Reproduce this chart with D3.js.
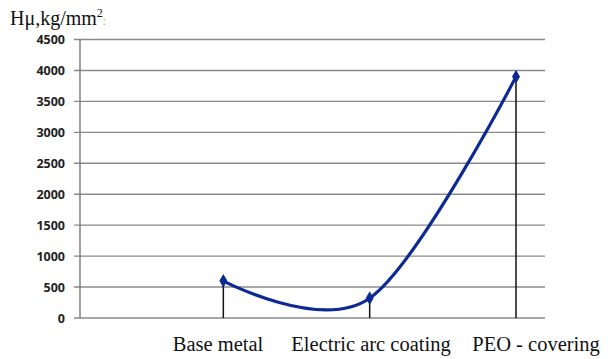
<!DOCTYPE html>
<html>
<head>
<meta charset="utf-8">
<script src="https://cdn.jsdelivr.net/npm/d3@7"></script>
<style>
  body { margin: 0; background: #fff; }
</style>
</head>
<body>
<div id="main"></div>
<script>
var categories = ["", "Base metal", "Electric arc coating", "PEO - covering"];
var values = [null, 600, 320, 3900];
var yTicks = [0, 500, 1000, 1500, 2000, 2500, 3000, 3500, 4000, 4500];

var svg = d3.select("#main").append("svg")
    .attr("width", 608)
    .attr("height", 359);

var x = d3.scalePoint().domain(categories).range([77, 516]);
var y = d3.scaleLinear().domain([0, 4500]).range([318, 39.5]);

// gridlines
svg.append("g").selectAll("line")
    .data(yTicks)
    .enter().append("line")
    .attr("x1", 74).attr("x2", 545)
    .attr("y1", function(d) { return y(d); })
    .attr("y2", function(d) { return y(d); })
    .attr("stroke", "#8a8a8a")
    .attr("stroke-width", 1.4);

// y axis line
svg.append("line")
    .attr("x1", 80).attr("x2", 80)
    .attr("y1", y(4500)).attr("y2", y(0))
    .attr("stroke", "#777")
    .attr("stroke-width", 1.4);

// tick labels
svg.append("g").selectAll("text")
    .data(yTicks)
    .enter().append("text")
    .attr("x", 65)
    .attr("y", function(d) { return y(d) + 4.5; })
    .attr("text-anchor", "end")
    .attr("font-family", "'Open Sans', 'DejaVu Sans', sans-serif")
    .attr("font-weight", "bold")
    .attr("font-size", 12.5)
    .attr("fill", "#222")
    .text(function(d) { return d; });

var pts = categories.map(function(c, i) { return { c: c, v: values[i] }; })
    .filter(function(d) { return d.v !== null; });

// drop lines
svg.append("g").selectAll("line")
    .data(pts)
    .enter().append("line")
    .attr("x1", function(d) { return x(d.c); })
    .attr("x2", function(d) { return x(d.c); })
    .attr("y1", function(d) { return y(d.v); })
    .attr("y2", y(0))
    .attr("stroke", "#111")
    .attr("stroke-width", 1.5);

// smoothed line
var line = d3.line()
    .x(function(d) { return x(d.c); })
    .y(function(d) { return y(d.v); })
    .curve(d3.curveCardinal.tension(0));

svg.append("path")
    .datum(pts)
    .attr("d", line)
    .attr("fill", "none")
    .attr("stroke", "#0d2a94")
    .attr("stroke-width", 3.2);

// diamond markers
svg.append("g").selectAll("path")
    .data(pts)
    .enter().append("path")
    .attr("transform", function(d) { return "translate(" + x(d.c) + "," + y(d.v) + ")"; })
    .attr("d", d3.symbol().type(d3.symbolDiamond).size(55))
    .attr("fill", "#0d2a94");

// category labels
var labelX = { "Base metal": 218, "Electric arc coating": 371, "PEO - covering": 536 };
svg.append("g").selectAll("text")
    .data(pts)
    .enter().append("text")
    .attr("x", function(d) { return labelX[d.c]; })
    .attr("y", 351)
    .attr("text-anchor", "middle")
    .attr("font-family", "'Liberation Serif', 'DejaVu Serif', serif")
    .attr("font-size", 20.5)
    .attr("fill", "#111")
    .text(function(d) { return d.c; });

// y axis title
var title = svg.append("text")
    .attr("x", 10)
    .attr("y", 25)
    .attr("font-family", "'Liberation Serif', 'DejaVu Serif', serif")
    .attr("font-size", 20)
    .attr("fill", "#111");
title.append("tspan").text("Hμ,kg/mm");
title.append("tspan").attr("dy", -8).attr("font-size", 12).text("2");
title.append("tspan").attr("dy", 8).attr("font-size", 12).attr("fill", "#e0a040").text(":");
</script>
</body>
</html>
